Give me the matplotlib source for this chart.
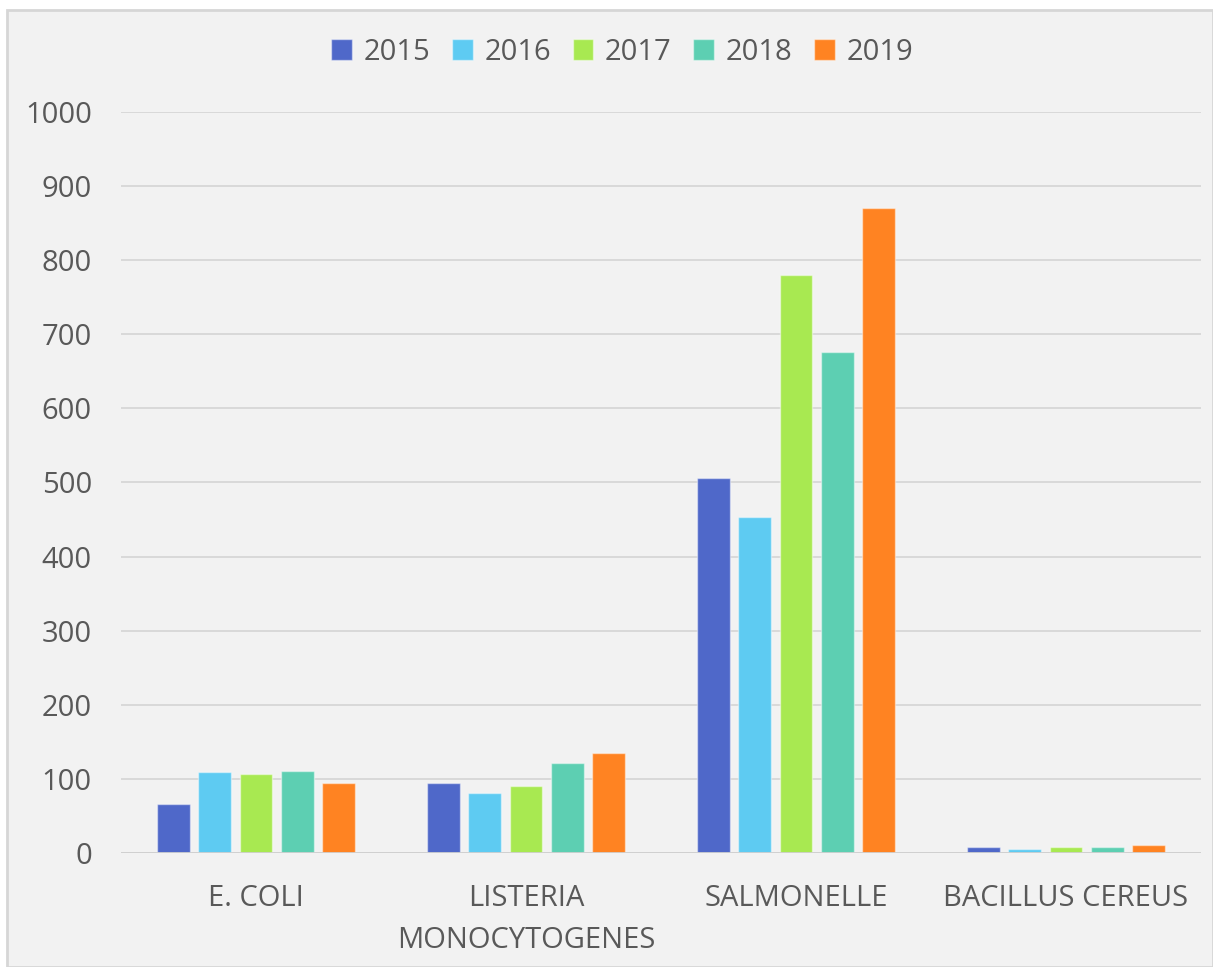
import numpy as np
import matplotlib
matplotlib.use("Agg")
import matplotlib.pyplot as plt
from matplotlib.patches import Rectangle

# ==========================================
# DATA
# ==========================================
categories = ["E. COLI", "LISTERIA\nMONOCYTOGENES", "SALMONELLE", "BACILLUS CEREUS"]
years = ["2015", "2016", "2017", "2018", "2019"]

vals_2015 = [66, 95, 506, 8]
vals_2016 = [109, 81, 454, 5]
vals_2017 = [106, 90, 780, 8]
vals_2018 = [111, 121, 676, 8]
vals_2019 = [95, 135, 870, 11]

y_ticks = [0, 100, 200, 300, 400, 500, 600, 700, 800, 900, 1000]

series = [vals_2015, vals_2016, vals_2017, vals_2018, vals_2019]
colors = ["#4f68c9", "#5ecbf2", "#a8e951", "#5dcfb2", "#ff8322"]

# ==========================================
# STYLE
# ==========================================
plt.rcParams['font.family'] = ['Open Sans', 'DejaVu Sans']
text_color = "#595959"
grid_color = "#d9d9d9"

fig = plt.figure(figsize=(12.13, 9.67), dpi=100)
fig.patch.set_facecolor("white")

# grey chart panel with thin border (behind the axes)
panel = Rectangle((7 / 1213, 0), 1 - 7 / 1213, 1 - 10 / 967,
                  transform=fig.transFigure, facecolor="#f2f2f2",
                  edgecolor="#d6d6d6", linewidth=2, zorder=-10)
fig.patches.append(panel)

ax = fig.add_axes([121 / 1213, 1 - 853 / 967, 1080 / 1213, (853 - 112) / 967])
ax.set_facecolor("none")
ax.set_zorder(1)

# ==========================================
# BARS
# ==========================================
x = np.arange(len(categories))
stride = 0.152
bar_w = 0.122
for i, (yr, vals, col) in enumerate(zip(years, series, colors)):
    offs = (i - 2) * stride
    ax.bar(x + offs, vals, width=bar_w, color=col, label=yr,
           edgecolor=(1, 1, 1, 0.45), linewidth=1.0, zorder=3)

ax.set_xlim(-0.5, len(categories) - 0.5)
ax.set_ylim(0, 1000)
ax.set_yticks(y_ticks)
ax.set_xticks(x)
ax.set_xticklabels(categories, linespacing=1.6)

ax.grid(axis="y", color=grid_color, linewidth=1.4, zorder=0)
ax.axhline(0, color="#d0d0d0", linewidth=2, zorder=4)
for s in ax.spines.values():
    s.set_visible(False)

ax.tick_params(axis="y", length=0, pad=21, labelsize=21, labelcolor=text_color)
ax.tick_params(axis="x", length=0, pad=22, labelsize=21, labelcolor=text_color)

# ==========================================
# LEGEND
# ==========================================
fig.legend(loc="center", bbox_to_anchor=(0.513, 0.946), ncol=5, frameon=False,
           fontsize=21, labelcolor=text_color, handlelength=0.7, handleheight=0.7,
           handletextpad=0.4, columnspacing=0.75)

fig.savefig("out.png", dpi=100, facecolor=fig.get_facecolor())
